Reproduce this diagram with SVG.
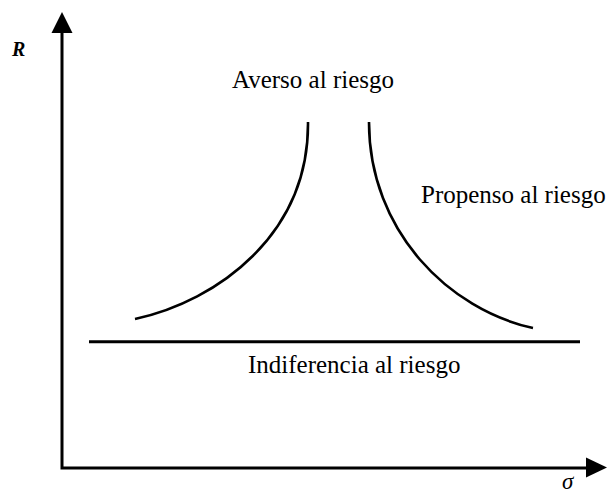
<svg xmlns="http://www.w3.org/2000/svg" width="613" height="495" viewBox="0 0 613 495">
<style>
.lbl{font-family:"Liberation Serif","Times New Roman",serif;font-size:25px;fill:#000}
.ln{fill:none;stroke:#000;stroke-width:2.6}
.ax{fill:none;stroke:#000;stroke-width:3}
</style>
<rect width="613" height="495" fill="#fff"/>
<g id="axes">
<path class="ax" d="M62,469 V30 M60.5,468 H588"/>
<polygon points="62,12 51.5,33 72.5,33" fill="#000"/>
<polygon points="607,467.5 586,457.5 586,477.5" fill="#000"/>
<text x="12" y="56" style="font-family:'Liberation Serif',serif;font-size:20px;font-weight:bold;font-style:italic">R</text>
<text x="562" y="489" style="font-family:'Liberation Serif',serif;font-size:23px;font-style:italic">σ</text>
</g>
<g id="averso">
<path class="ln" d="M135,319 C218,301 309,234 308,122"/>
<text class="lbl" x="232" y="88">Averso al riesgo</text>
</g>
<g id="propenso">
<path class="ln" d="M369,122 C369,232 450,310 533,328"/>
<text class="lbl" x="421" y="203">Propenso al riesgo</text>
</g>
<g id="indiferencia">
<path class="ax" d="M89,341.7 H580"/>
<text class="lbl" x="248" y="373">Indiferencia al riesgo</text>
</g>
</svg>
